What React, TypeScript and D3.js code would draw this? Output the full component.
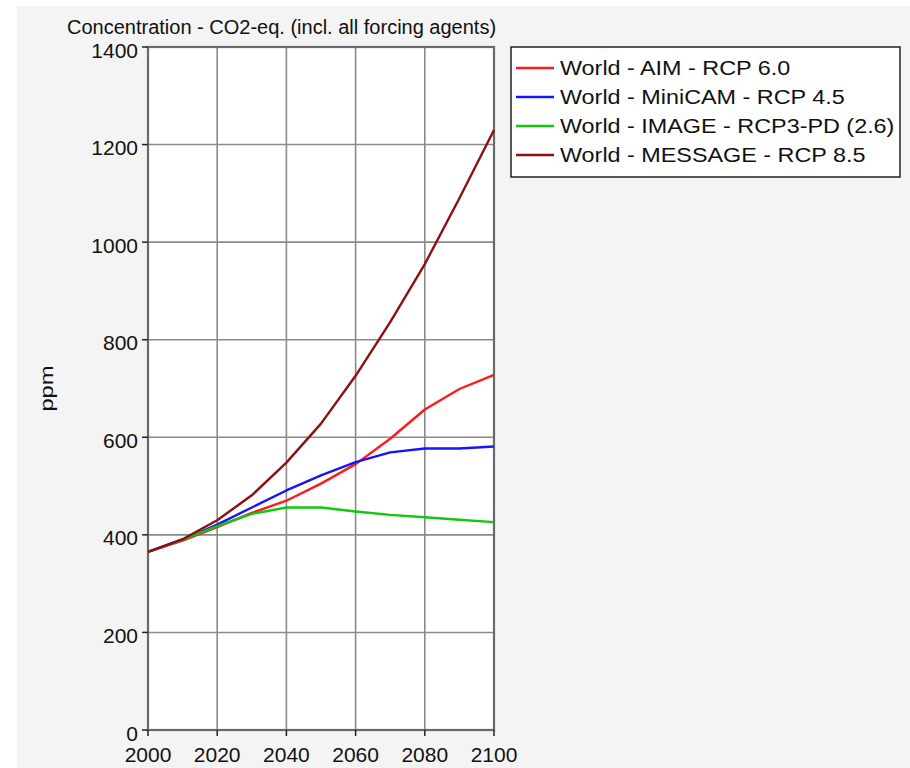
import React from "react";
import * as d3 from "d3";

const years = [2000, 2010, 2020, 2030, 2040, 2050, 2060, 2070, 2080, 2090, 2100];
const aim = [365, 388, 416, 445, 470, 505, 545, 597, 657, 699, 728];
const miniCam = [365, 390, 421, 456, 491, 522, 549, 569, 577, 577, 581];
const image = [365, 390, 418, 443, 456, 456, 448, 441, 436, 431, 426];
const message = [365, 391, 430, 481, 548, 628, 726, 836, 955, 1090, 1230];

const seriesNames = [
  "World - AIM - RCP 6.0",
  "World - MiniCAM - RCP 4.5",
  "World - IMAGE - RCP3-PD (2.6)",
  "World - MESSAGE - RCP 8.5",
];
const seriesValues = [aim, miniCam, image, message];
const seriesColors = ["#ff1a1a", "#1414ff", "#10c810", "#8c1010"];

const xTicks = [2000, 2020, 2040, 2060, 2080, 2100];
const yTicks = [0, 200, 400, 600, 800, 1000, 1200, 1400];

const title = "Concentration - CO2-eq. (incl. all forcing agents)";
const yLabel = "ppm";

export default function App() {
  const left = 148, right = 494, top = 47, bottom = 730;
  const x = d3.scaleLinear().domain([2000, 2100]).range([left, right]);
  const y = d3.scaleLinear().domain([0, 1400]).range([bottom, top]);
  const line = d3
    .line<number>()
    .x((_, i) => x(years[i]))
    .y((d) => y(d));
  const font = "'Liberation Sans', Arial, sans-serif";

  return (
    <svg
      width={910}
      height={768}
      style={{ position: "absolute", left: 0, top: 0 }}
      fontFamily={font}
    >
      <rect x={0} y={0} width={910} height={768} fill="#ffffff" />
      <rect x={17} y={6} width={893} height={762} fill="#f4f4f4" />
      <text x={67} y={34} fontSize={20} fill="#111">
        {title}
      </text>
      <rect x={left} y={top} width={right - left} height={bottom - top} fill="#ffffff" />
      {xTicks.map((t) => (
        <line key={"gx" + t} x1={x(t)} x2={x(t)} y1={top} y2={bottom} stroke="#8a8a8a" strokeWidth={1.6} />
      ))}
      {yTicks.map((t) => (
        <line key={"gy" + t} x1={left} x2={right} y1={y(t)} y2={y(t)} stroke="#8a8a8a" strokeWidth={1.6} />
      ))}
      <rect x={left} y={top} width={right - left} height={bottom - top} fill="none" stroke="#6a6a6a" strokeWidth={2.2} />
      {yTicks.map((t) => (
        <g key={"ty" + t}>
          <line x1={left - 6} x2={left} y1={y(t)} y2={y(t)} stroke="#222" strokeWidth={1.5} />
          <text x={left - 10} y={y(t) + 3} dy="0.36em" textAnchor="end" fontSize={21} fill="#111">
            {t}
          </text>
        </g>
      ))}
      {xTicks.map((t) => (
        <g key={"tx" + t}>
          <line x1={x(t)} x2={x(t)} y1={bottom} y2={bottom + 6} stroke="#222" strokeWidth={1.5} />
          <text x={x(t)} y={bottom + 32} textAnchor="middle" fontSize={21} fill="#111">
            {t}
          </text>
        </g>
      ))}
      <text
        transform={`translate(53, ${(top + bottom) / 2}) rotate(-90) scale(1.25, 1)`}
        textAnchor="middle"
        fontSize={19}
        fill="#111"
      >
        {yLabel}
      </text>
      {seriesValues.map((vals, i) => (
        <path key={"s" + i} d={line(vals) || ""} fill="none" stroke={seriesColors[i]} strokeWidth={2.4} strokeLinejoin="round" />
      ))}
      <rect x={511} y={47} width={389} height={130} fill="#ffffff" stroke="#222" strokeWidth={1.5} />
      {seriesNames.map((n, i) => (
        <g key={"l" + i}>
          <line x1={516} x2={554} y1={68 + i * 29} y2={68 + i * 29} stroke={seriesColors[i]} strokeWidth={2.4} />
          <text
            transform={`translate(560, ${68 + i * 29}) scale(1.14, 1)`}
            dy="0.36em"
            fontSize={20.5}
            fill="#111"
          >
            {n}
          </text>
        </g>
      ))}
    </svg>
  );
}
